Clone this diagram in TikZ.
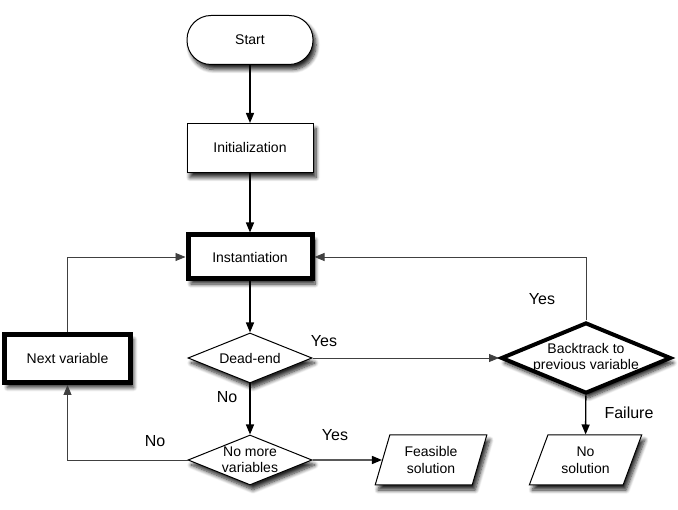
\documentclass[tikz,border=0pt]{standalone}
\usepackage{fontspec}
\setmainfont{Liberation Sans}
\usetikzlibrary{shapes.geometric,arrows.meta,shadows.blur}
\begin{document}
\begin{tikzpicture}[x=1pt,y=-1pt,
  shd/.style={blur shadow={shadow xshift=3pt,shadow yshift=-5pt,shadow blur steps=8,shadow opacity=85,shadow blur radius=4pt}},
  nfont/.style={font=\fontsize{14}{16}\selectfont},
  base/.style={draw=black,fill=white,shd,nfont,align=center,inner sep=0pt},
  startbox/.style={base,line width=1pt,rounded corners=24pt,minimum width=126pt,minimum height=49pt},
  procbox/.style={base,line width=1pt,minimum width=126pt,minimum height=49pt},
  thickbox/.style={base,line width=5pt,minimum width=124pt,minimum height=44pt},
  decbox/.style={base,diamond,line width=1pt,minimum width=124pt,minimum height=50pt},
  thickdec/.style={base,diamond,line width=4pt,minimum width=170pt,minimum height=71pt},
  iobox/.style={base,trapezium,line width=1pt,trapezium stretches=true,minimum width=112pt,minimum height=50pt},
  lbl/.style={font=\fontsize{16}{18}\selectfont,inner sep=0pt},
  arr/.style={-{Triangle[length=10pt,width=8pt]},line width=1.4pt},
  thinarr/.style={-{Triangle[length=10pt,width=8pt]},line width=0.8pt,draw=black!75},
]
\useasboundingbox (0,0) rectangle (678,510);

\node[startbox] (start) at (250,40) {Start};
\node[procbox] (init) at (250,148) {Initialization};
\node[thickbox] (inst) at (250,257) {Instantiation};
\node[thickbox,minimum width=126pt,minimum height=48pt] (next) at (67.5,358.5) {Next variable};
\node[decbox,label={[nfont]center:Dead-end}] (dead) at (250,358) {};
\node[decbox,label={[nfont,align=center]center:No more\\variables}] (nomore) at (250,460) {};
\node[thickdec,label={[nfont,align=center]center:Backtrack to\\previous variable}] (back) at (586,358) {};
\node[iobox,trapezium left angle=71,trapezium right angle=109] (feas) at (431,460) {Feasible\\[1pt]solution};
\node[iobox,trapezium left angle=66,trapezium right angle=114,minimum width=113pt] (nosol) at (585.5,460) {No\\[1pt]solution};

\draw[arr] (start) -- (init);
\draw[arr] (init) -- (inst);
\draw[arr] (inst) -- (dead);
\draw[arr] (dead) -- (nomore);
\draw[arr] (nomore) -- (feas);
\draw[arr] (back) -- (nosol);
\draw[thinarr] (next.north) |- (inst.west);
\draw[thinarr] (back.north) |- (inst.east);
\draw[thinarr] (dead.east) -- (back.west);
\draw[thinarr] (nomore.west) -| (next.south);

\node[lbl] (l1) at (324,341) {Yes};
\node[lbl] (l2) at (227,397) {No};
\node[lbl] (l3) at (155,441) {No};
\node[lbl] (l4) at (335,435) {Yes};
\node[lbl] (l5) at (542,299) {Yes};
\node[lbl] (l6) at (629,413) {Failure};
\end{tikzpicture}
\end{document}
